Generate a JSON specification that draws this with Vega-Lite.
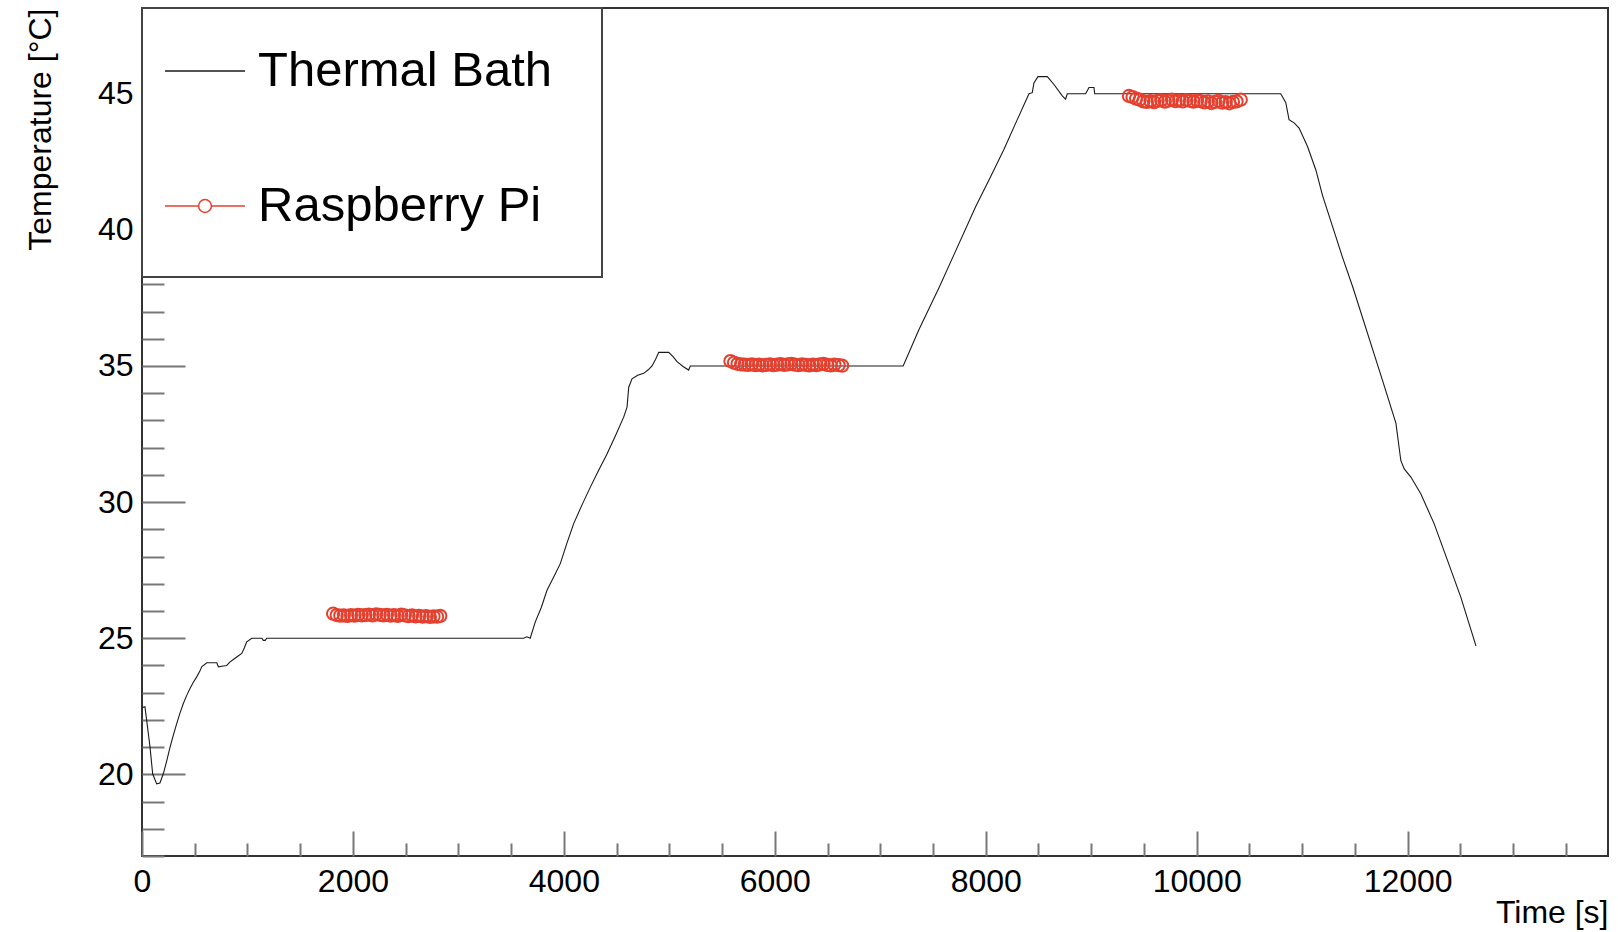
{
  "$schema": "https://vega.github.io/schema/vega-lite/v6.json",
  "width": 1466,
  "height": 848,
  "autosize": {"type": "none"},
  "padding": {"left": 142, "top": 8, "right": 10, "bottom": 76},
  "background": "white",
  "config": {
    "view": {"stroke": "#333333", "strokeWidth": 2},
    "font": "Liberation Sans"
  },
  "datasets": {
    "bath": [
      {"time": 0, "temp": 22.45, "series": "Thermal Bath"},
      {"time": 28, "temp": 22.48, "series": "Thermal Bath"},
      {"time": 60, "temp": 21.5, "series": "Thermal Bath"},
      {"time": 76, "temp": 21.0, "series": "Thermal Bath"},
      {"time": 101, "temp": 20.02, "series": "Thermal Bath"},
      {"time": 139, "temp": 19.65, "series": "Thermal Bath"},
      {"time": 170, "temp": 19.68, "series": "Thermal Bath"},
      {"time": 202, "temp": 20.02, "series": "Thermal Bath"},
      {"time": 235, "temp": 20.5, "series": "Thermal Bath"},
      {"time": 266, "temp": 21.0, "series": "Thermal Bath"},
      {"time": 298, "temp": 21.45, "series": "Thermal Bath"},
      {"time": 329, "temp": 21.86, "series": "Thermal Bath"},
      {"time": 360, "temp": 22.25, "series": "Thermal Bath"},
      {"time": 392, "temp": 22.6, "series": "Thermal Bath"},
      {"time": 424, "temp": 22.9, "series": "Thermal Bath"},
      {"time": 455, "temp": 23.15, "series": "Thermal Bath"},
      {"time": 487, "temp": 23.38, "series": "Thermal Bath"},
      {"time": 519, "temp": 23.58, "series": "Thermal Bath"},
      {"time": 550, "temp": 23.8, "series": "Thermal Bath"},
      {"time": 566, "temp": 23.95, "series": "Thermal Bath"},
      {"time": 614, "temp": 24.1, "series": "Thermal Bath"},
      {"time": 709, "temp": 24.1, "series": "Thermal Bath"},
      {"time": 724, "temp": 23.95, "series": "Thermal Bath"},
      {"time": 770, "temp": 23.98, "series": "Thermal Bath"},
      {"time": 803, "temp": 24.0, "series": "Thermal Bath"},
      {"time": 835, "temp": 24.13, "series": "Thermal Bath"},
      {"time": 866, "temp": 24.22, "series": "Thermal Bath"},
      {"time": 898, "temp": 24.31, "series": "Thermal Bath"},
      {"time": 946, "temp": 24.44, "series": "Thermal Bath"},
      {"time": 970, "temp": 24.64, "series": "Thermal Bath"},
      {"time": 993, "temp": 24.87, "series": "Thermal Bath"},
      {"time": 1041, "temp": 25.0, "series": "Thermal Bath"},
      {"time": 1136, "temp": 25.0, "series": "Thermal Bath"},
      {"time": 1150, "temp": 24.92, "series": "Thermal Bath"},
      {"time": 1168, "temp": 24.92, "series": "Thermal Bath"},
      {"time": 1183, "temp": 25.0, "series": "Thermal Bath"},
      {"time": 3618, "temp": 25.0, "series": "Thermal Bath"},
      {"time": 3650, "temp": 25.05, "series": "Thermal Bath"},
      {"time": 3681, "temp": 25.0, "series": "Thermal Bath"},
      {"time": 3729, "temp": 25.6, "series": "Thermal Bath"},
      {"time": 3785, "temp": 26.12, "series": "Thermal Bath"},
      {"time": 3840, "temp": 26.76, "series": "Thermal Bath"},
      {"time": 3900, "temp": 27.22, "series": "Thermal Bath"},
      {"time": 3966, "temp": 27.74, "series": "Thermal Bath"},
      {"time": 4030, "temp": 28.5, "series": "Thermal Bath"},
      {"time": 4093, "temp": 29.21, "series": "Thermal Bath"},
      {"time": 4170, "temp": 29.88, "series": "Thermal Bath"},
      {"time": 4251, "temp": 30.55, "series": "Thermal Bath"},
      {"time": 4330, "temp": 31.17, "series": "Thermal Bath"},
      {"time": 4409, "temp": 31.77, "series": "Thermal Bath"},
      {"time": 4490, "temp": 32.45, "series": "Thermal Bath"},
      {"time": 4567, "temp": 33.12, "series": "Thermal Bath"},
      {"time": 4599, "temp": 33.49, "series": "Thermal Bath"},
      {"time": 4615, "temp": 34.22, "series": "Thermal Bath"},
      {"time": 4646, "temp": 34.53, "series": "Thermal Bath"},
      {"time": 4700, "temp": 34.66, "series": "Thermal Bath"},
      {"time": 4757, "temp": 34.73, "series": "Thermal Bath"},
      {"time": 4800, "temp": 34.86, "series": "Thermal Bath"},
      {"time": 4836, "temp": 35.0, "series": "Thermal Bath"},
      {"time": 4870, "temp": 35.25, "series": "Thermal Bath"},
      {"time": 4899, "temp": 35.5, "series": "Thermal Bath"},
      {"time": 4994, "temp": 35.5, "series": "Thermal Bath"},
      {"time": 5035, "temp": 35.34, "series": "Thermal Bath"},
      {"time": 5073, "temp": 35.16, "series": "Thermal Bath"},
      {"time": 5130, "temp": 34.98, "series": "Thermal Bath"},
      {"time": 5183, "temp": 34.85, "series": "Thermal Bath"},
      {"time": 5199, "temp": 35.0, "series": "Thermal Bath"},
      {"time": 7217, "temp": 35.0, "series": "Thermal Bath"},
      {"time": 7366, "temp": 36.33, "series": "Thermal Bath"},
      {"time": 7560, "temp": 37.9, "series": "Thermal Bath"},
      {"time": 7700, "temp": 39.1, "series": "Thermal Bath"},
      {"time": 7904, "temp": 40.85, "series": "Thermal Bath"},
      {"time": 8046, "temp": 41.95, "series": "Thermal Bath"},
      {"time": 8172, "temp": 42.95, "series": "Thermal Bath"},
      {"time": 8299, "temp": 44.05, "series": "Thermal Bath"},
      {"time": 8410, "temp": 45.0, "series": "Thermal Bath"},
      {"time": 8441, "temp": 45.04, "series": "Thermal Bath"},
      {"time": 8457, "temp": 45.4, "series": "Thermal Bath"},
      {"time": 8495, "temp": 45.63, "series": "Thermal Bath"},
      {"time": 8584, "temp": 45.63, "series": "Thermal Bath"},
      {"time": 8647, "temp": 45.34, "series": "Thermal Bath"},
      {"time": 8726, "temp": 44.92, "series": "Thermal Bath"},
      {"time": 8757, "temp": 44.8, "series": "Thermal Bath"},
      {"time": 8773, "temp": 45.0, "series": "Thermal Bath"},
      {"time": 8947, "temp": 45.0, "series": "Thermal Bath"},
      {"time": 8979, "temp": 45.23, "series": "Thermal Bath"},
      {"time": 9026, "temp": 45.23, "series": "Thermal Bath"},
      {"time": 9033, "temp": 45.0, "series": "Thermal Bath"},
      {"time": 10797, "temp": 45.0, "series": "Thermal Bath"},
      {"time": 10845, "temp": 44.67, "series": "Thermal Bath"},
      {"time": 10876, "temp": 44.05, "series": "Thermal Bath"},
      {"time": 10924, "temp": 43.93, "series": "Thermal Bath"},
      {"time": 10971, "temp": 43.74, "series": "Thermal Bath"},
      {"time": 11051, "temp": 43.06, "series": "Thermal Bath"},
      {"time": 11130, "temp": 42.2, "series": "Thermal Bath"},
      {"time": 11193, "temp": 41.27, "series": "Thermal Bath"},
      {"time": 11382, "temp": 39.0, "series": "Thermal Bath"},
      {"time": 11480, "temp": 37.9, "series": "Thermal Bath"},
      {"time": 11762, "temp": 34.47, "series": "Thermal Bath"},
      {"time": 11889, "temp": 32.9, "series": "Thermal Bath"},
      {"time": 11936, "temp": 31.52, "series": "Thermal Bath"},
      {"time": 11968, "temp": 31.22, "series": "Thermal Bath"},
      {"time": 12031, "temp": 30.92, "series": "Thermal Bath"},
      {"time": 12126, "temp": 30.3, "series": "Thermal Bath"},
      {"time": 12252, "temp": 29.2, "series": "Thermal Bath"},
      {"time": 12379, "temp": 27.85, "series": "Thermal Bath"},
      {"time": 12505, "temp": 26.5, "series": "Thermal Bath"},
      {"time": 12648, "temp": 24.72, "series": "Thermal Bath"}
    ],
    "rpi": [
      {"time": 1812, "temp": 25.9, "series": "Raspberry Pi"},
      {"time": 1846, "temp": 25.85, "series": "Raspberry Pi"},
      {"time": 1880, "temp": 25.83, "series": "Raspberry Pi"},
      {"time": 1914, "temp": 25.84, "series": "Raspberry Pi"},
      {"time": 1948, "temp": 25.82, "series": "Raspberry Pi"},
      {"time": 1982, "temp": 25.85, "series": "Raspberry Pi"},
      {"time": 2016, "temp": 25.83, "series": "Raspberry Pi"},
      {"time": 2050, "temp": 25.86, "series": "Raspberry Pi"},
      {"time": 2084, "temp": 25.84, "series": "Raspberry Pi"},
      {"time": 2118, "temp": 25.85, "series": "Raspberry Pi"},
      {"time": 2152, "temp": 25.87, "series": "Raspberry Pi"},
      {"time": 2186, "temp": 25.84, "series": "Raspberry Pi"},
      {"time": 2220, "temp": 25.88, "series": "Raspberry Pi"},
      {"time": 2254, "temp": 25.86, "series": "Raspberry Pi"},
      {"time": 2288, "temp": 25.84, "series": "Raspberry Pi"},
      {"time": 2322, "temp": 25.86, "series": "Raspberry Pi"},
      {"time": 2356, "temp": 25.83, "series": "Raspberry Pi"},
      {"time": 2390, "temp": 25.85, "series": "Raspberry Pi"},
      {"time": 2424, "temp": 25.82, "series": "Raspberry Pi"},
      {"time": 2458, "temp": 25.87, "series": "Raspberry Pi"},
      {"time": 2492, "temp": 25.84, "series": "Raspberry Pi"},
      {"time": 2526, "temp": 25.81, "series": "Raspberry Pi"},
      {"time": 2560, "temp": 25.84, "series": "Raspberry Pi"},
      {"time": 2594, "temp": 25.8, "series": "Raspberry Pi"},
      {"time": 2628, "temp": 25.82, "series": "Raspberry Pi"},
      {"time": 2662, "temp": 25.79, "series": "Raspberry Pi"},
      {"time": 2696, "temp": 25.81, "series": "Raspberry Pi"},
      {"time": 2730, "temp": 25.78, "series": "Raspberry Pi"},
      {"time": 2764, "temp": 25.8, "series": "Raspberry Pi"},
      {"time": 2798, "temp": 25.79, "series": "Raspberry Pi"},
      {"time": 2828, "temp": 25.82, "series": "Raspberry Pi"},
      {"time": 5579, "temp": 35.18, "series": "Raspberry Pi"},
      {"time": 5613, "temp": 35.12, "series": "Raspberry Pi"},
      {"time": 5647, "temp": 35.08, "series": "Raspberry Pi"},
      {"time": 5681, "temp": 35.06, "series": "Raspberry Pi"},
      {"time": 5715, "temp": 35.05, "series": "Raspberry Pi"},
      {"time": 5749, "temp": 35.04, "series": "Raspberry Pi"},
      {"time": 5783, "temp": 35.06, "series": "Raspberry Pi"},
      {"time": 5817, "temp": 35.03, "series": "Raspberry Pi"},
      {"time": 5851, "temp": 35.05, "series": "Raspberry Pi"},
      {"time": 5885, "temp": 35.02, "series": "Raspberry Pi"},
      {"time": 5919, "temp": 35.04, "series": "Raspberry Pi"},
      {"time": 5953, "temp": 35.06, "series": "Raspberry Pi"},
      {"time": 5987, "temp": 35.03, "series": "Raspberry Pi"},
      {"time": 6021, "temp": 35.05, "series": "Raspberry Pi"},
      {"time": 6055, "temp": 35.07, "series": "Raspberry Pi"},
      {"time": 6089, "temp": 35.04, "series": "Raspberry Pi"},
      {"time": 6123, "temp": 35.06, "series": "Raspberry Pi"},
      {"time": 6157, "temp": 35.08, "series": "Raspberry Pi"},
      {"time": 6191, "temp": 35.05, "series": "Raspberry Pi"},
      {"time": 6225, "temp": 35.03, "series": "Raspberry Pi"},
      {"time": 6259, "temp": 35.06, "series": "Raspberry Pi"},
      {"time": 6293, "temp": 35.04, "series": "Raspberry Pi"},
      {"time": 6327, "temp": 35.02, "series": "Raspberry Pi"},
      {"time": 6361, "temp": 35.05, "series": "Raspberry Pi"},
      {"time": 6395, "temp": 35.03, "series": "Raspberry Pi"},
      {"time": 6429, "temp": 35.06, "series": "Raspberry Pi"},
      {"time": 6463, "temp": 35.08, "series": "Raspberry Pi"},
      {"time": 6497, "temp": 35.04, "series": "Raspberry Pi"},
      {"time": 6531, "temp": 35.02, "series": "Raspberry Pi"},
      {"time": 6565, "temp": 35.05, "series": "Raspberry Pi"},
      {"time": 6605, "temp": 35.03, "series": "Raspberry Pi"},
      {"time": 6639, "temp": 35.01, "series": "Raspberry Pi"},
      {"time": 9358, "temp": 44.92, "series": "Raspberry Pi"},
      {"time": 9392, "temp": 44.88, "series": "Raspberry Pi"},
      {"time": 9426, "temp": 44.82, "series": "Raspberry Pi"},
      {"time": 9460, "temp": 44.78, "series": "Raspberry Pi"},
      {"time": 9494, "temp": 44.72, "series": "Raspberry Pi"},
      {"time": 9528, "temp": 44.7, "series": "Raspberry Pi"},
      {"time": 9562, "temp": 44.73, "series": "Raspberry Pi"},
      {"time": 9596, "temp": 44.69, "series": "Raspberry Pi"},
      {"time": 9630, "temp": 44.74, "series": "Raspberry Pi"},
      {"time": 9664, "temp": 44.76, "series": "Raspberry Pi"},
      {"time": 9698, "temp": 44.71, "series": "Raspberry Pi"},
      {"time": 9732, "temp": 44.75, "series": "Raspberry Pi"},
      {"time": 9766, "temp": 44.78, "series": "Raspberry Pi"},
      {"time": 9800, "temp": 44.73, "series": "Raspberry Pi"},
      {"time": 9834, "temp": 44.76, "series": "Raspberry Pi"},
      {"time": 9868, "temp": 44.72, "series": "Raspberry Pi"},
      {"time": 9902, "temp": 44.77, "series": "Raspberry Pi"},
      {"time": 9936, "temp": 44.74, "series": "Raspberry Pi"},
      {"time": 9970, "temp": 44.71, "series": "Raspberry Pi"},
      {"time": 10004, "temp": 44.75, "series": "Raspberry Pi"},
      {"time": 10038, "temp": 44.73, "series": "Raspberry Pi"},
      {"time": 10072, "temp": 44.68, "series": "Raspberry Pi"},
      {"time": 10106, "temp": 44.72, "series": "Raspberry Pi"},
      {"time": 10140, "temp": 44.66, "series": "Raspberry Pi"},
      {"time": 10174, "temp": 44.7, "series": "Raspberry Pi"},
      {"time": 10208, "temp": 44.74, "series": "Raspberry Pi"},
      {"time": 10242, "temp": 44.67, "series": "Raspberry Pi"},
      {"time": 10276, "temp": 44.69, "series": "Raspberry Pi"},
      {"time": 10310, "temp": 44.65, "series": "Raspberry Pi"},
      {"time": 10344, "temp": 44.7, "series": "Raspberry Pi"},
      {"time": 10378, "temp": 44.72, "series": "Raspberry Pi"},
      {"time": 10418, "temp": 44.78, "series": "Raspberry Pi"}
    ]
  },
  "layer": [
    {
      "data": {"name": "bath"},
      "mark": {"type": "line", "strokeWidth": 1.1, "interpolate": "linear"},
      "encoding": {
        "x": {
          "field": "time",
          "type": "quantitative",
          "scale": {"domain": [0, 13900], "nice": false, "zero": false},
          "axis": {
            "values": [0, 500, 1000, 1500, 2000, 2500, 3000, 3500, 4000, 4500, 5000, 5500, 6000, 6500, 7000, 7500, 8000, 8500, 9000, 9500, 10000, 10500, 11000, 11500, 12000, 12500, 13000, 13500],
            "tickCount": 200,
            "format": "d",
            "labelExpr": "datum.value % 2000 === 0 ? datum.label : ''",
            "tickSize": {"condition": {"test": "datum.value % 2000 === 0", "value": -25}, "value": -13},
            "tickColor": "#777777",
            "tickWidth": 2,
            "labelPadding": 35,
            "labelFont": "Liberation Sans",
            "labelFontSize": 32,
            "labelColor": "black",
            "labelFlush": false,
            "labelOverlap": false,
            "domain": false,
            "grid": false,
            "zindex": 0,
            "title": "Time [s]",
            "titleAnchor": "end",
            "titleFont": "Liberation Sans",
            "titleFontSize": 32,
            "titleFontWeight": "normal",
            "titleColor": "black",
            "titlePadding": -12
          }
        },
        "y": {
          "field": "temp",
          "type": "quantitative",
          "scale": {"domain": [17, 48.15], "nice": false, "zero": false},
          "axis": {
            "values": [17, 18, 19, 20, 21, 22, 23, 24, 25, 26, 27, 28, 29, 30, 31, 32, 33, 34, 35, 36, 37, 38, 39, 40, 41, 42, 43, 44, 45, 46, 47, 48],
            "tickCount": 200,
            "format": "d",
            "labelExpr": "datum.value % 5 === 0 ? datum.label : ''",
            "tickSize": {"condition": {"test": "datum.value % 5 === 0", "value": -43}, "value": -22},
            "tickColor": "#777777",
            "tickWidth": 2,
            "labelPadding": 52,
            "labelFont": "Liberation Sans",
            "labelFontSize": 32,
            "labelColor": "black",
            "labelFlush": false,
            "labelOverlap": false,
            "domain": false,
            "grid": false,
            "zindex": 0,
            "title": "Temperature [°C]",
            "titleAnchor": "end",
            "titleFont": "Liberation Sans",
            "titleFontSize": 32,
            "titleFontWeight": "normal",
            "titleColor": "black",
            "titlePadding": 40
          }
        },
        "color": {
          "field": "series",
          "type": "nominal",
          "scale": {"domain": ["Thermal Bath", "Raspberry Pi"], "range": ["#1a1a1a", "#e5402f"]},
          "legend": {
            "title": null,
            "orient": "top-left",
            "offset": 0,
            "padding": 22,
            "rowPadding": 35,
            "labelFont": "Liberation Sans",
            "labelFontSize": 49,
            "labelColor": "black",
            "labelOffset": 12,
            "labelLimit": 2000,
            "fillColor": "white",
            "strokeColor": "#444444",
            "zindex": 1,
            "encode": {
              "symbols": {
                "update": {
                  "shape": {"signal": "datum.value === 'Raspberry Pi' ? 'M-1,0H-0.16M0.16,0H1M0.16,0A0.16,0.16,0,1,1,-0.16,0A0.16,0.16,0,1,1,0.16,0M0,-1.2M0,1.15M9.3,0' : 'M-1,0H1M0,-1.2M0,1.15M9.3,0'"},
                  "size": {"value": 6400},
                  "fill": {"value": "transparent"},
                  "strokeWidth": {"value": 1.5},
                  "stroke": {"signal": "datum.value === 'Raspberry Pi' ? '#e5402f' : '#777777'"},
                  "opacity": {"value": 1}
                }
              },
              "legend": {"update": {"strokeWidth": {"value": 2}}}
            }
          }
        }
      }
    },
    {
      "data": {"name": "rpi"},
      "mark": {"type": "point", "shape": "circle", "filled": false, "size": 150, "strokeWidth": 2, "opacity": 1},
      "encoding": {
        "x": {"field": "time", "type": "quantitative"},
        "y": {"field": "temp", "type": "quantitative"},
        "color": {"field": "series", "type": "nominal"}
      }
    }
  ]
}
